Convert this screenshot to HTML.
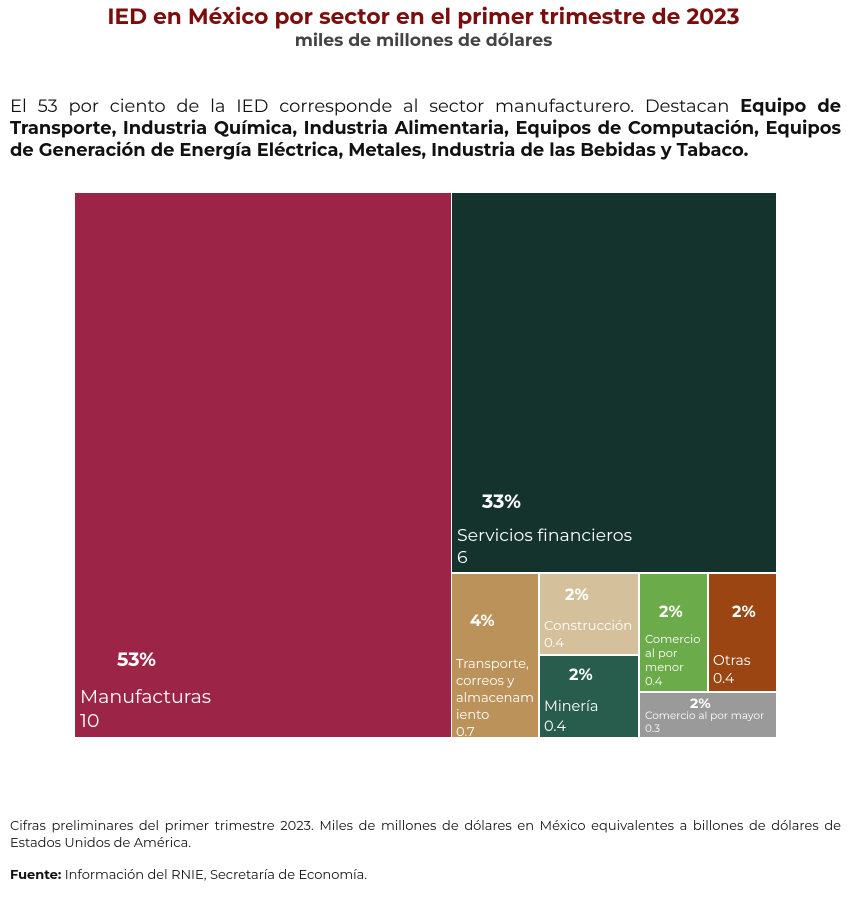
<!DOCTYPE html>
<html><head><meta charset="utf-8"><style>
body{margin:0;width:847px;height:898px;background:#fff;font-family:"Montserrat","Liberation Sans",sans-serif;position:relative;overflow:hidden}
.a{position:absolute}
.c{position:absolute;color:#fff}
.p{position:absolute;font-weight:bold;color:#fff}
</style></head><body>
<div class="a" style="left:0;width:847px;top:4px;text-align:center;font-size:21.7px;font-weight:bold;color:#7b0d0d">IED en México por sector en el primer trimestre de 2023</div>
<div class="a" style="left:0;width:847px;top:30px;text-align:center;font-size:17.3px;font-weight:bold;color:#444">miles de millones de dólares</div>
<div class="a" style="left:10px;width:831px;top:96px;font-size:17.9px;line-height:22px;text-align:justify;color:#111">El 53 por ciento de la IED corresponde al sector manufacturero. Destacan <b>Equipo de Transporte, Industria Química, Industria Alimentaria, Equipos de Computación, Equipos de Generación de Energía Eléctrica, Metales, Industria de las Bebidas y Tabaco.</b></div>

<div class="c" style="left:75px;top:193px;width:376px;height:544px;background:#9c2447">
<div class="p" style="left:42px;top:455px;font-size:19px">53%</div>
<div class="a" style="left:5px;top:492px;font-size:19px;line-height:24px">Manufacturas<br>10</div></div>
<div class="c" style="left:452px;top:193px;width:324px;height:379px;background:#15332d">
<div class="p" style="left:30px;top:297px;font-size:19px">33%</div>
<div class="a" style="left:5px;top:332px;font-size:17.3px;line-height:22px">Servicios financieros<br>6</div></div>
<div class="c" style="left:452px;top:574px;width:86px;height:163px;background:#bc925b">
<div class="p" style="left:18px;top:38px;font-size:16px">4%</div>
<div class="a" style="left:4px;top:82px;font-size:13px;line-height:17px">Transporte,<br>correos y<br>almacenam<br>iento<br>0.7</div></div>
<div class="c" style="left:540px;top:574px;width:98px;height:80px;background:#d4c19b">
<div class="p" style="left:25px;top:12px;font-size:16px">2%</div>
<div class="a" style="left:4px;top:44px;font-size:13.3px;line-height:17px">Construcción<br>0.4</div></div>
<div class="c" style="left:540px;top:656px;width:98px;height:81px;background:#285c4c">
<div class="p" style="left:29px;top:10px;font-size:16px">2%</div>
<div class="a" style="left:4px;top:40px;font-size:14.5px;line-height:20px">Minería<br>0.4</div></div>
<div class="c" style="left:640px;top:574px;width:67px;height:117px;background:#6cab4a">
<div class="p" style="left:19px;top:29px;font-size:16px">2%</div>
<div class="a" style="left:5px;top:58px;font-size:11.5px;line-height:14px">Comercio<br>al por<br>menor<br>0.4</div></div>
<div class="c" style="left:709px;top:574px;width:67px;height:117px;background:#9b4612">
<div class="p" style="left:23px;top:29px;font-size:16px">2%</div>
<div class="a" style="left:4px;top:77px;font-size:14px;line-height:18px">Otras<br>0.4</div></div>
<div class="c" style="left:640px;top:693px;width:136px;height:44px;background:#9a9a9a">
<div class="p" style="left:50px;top:1px;font-size:14px">2%</div>
<div class="a" style="left:5px;top:16px;font-size:10.5px;line-height:13px">Comercio al por mayor<br>0.3</div></div>

<div class="a" style="left:10px;width:831px;top:818px;font-size:13px;line-height:17px;text-align:justify;color:#111">Cifras preliminares del primer trimestre 2023. Miles de millones de dólares en México equivalentes a billones de dólares de Estados Unidos de América.</div>
<div class="a" style="left:10px;top:867px;font-size:13px;color:#111"><b>Fuente:</b> Información del RNIE, Secretaría de Economía.</div>
</body></html>
